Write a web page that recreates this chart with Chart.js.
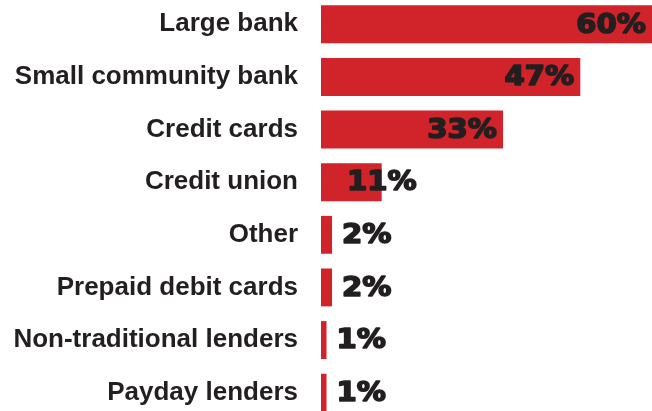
<!DOCTYPE html>
<html>
<head>
<meta charset="utf-8">
<script src="https://cdn.jsdelivr.net/npm/chart.js@4"></script>
<style>
  html, body { margin: 0; padding: 0; background: #fff; overflow: hidden; }
  #wrap { position: relative; width: 652px; height: 411px; overflow: hidden; }
  #caja { position: absolute; left: 0; top: -2px; width: 652px; height: 421px; }
</style>
</head>
<body>
<div id="wrap"><div id="caja"><canvas id="graf_bancos"></canvas></div></div>
<script>
// Categorias y valores (porcentaje)
var categorias = ['Large bank', 'Small community bank', 'Credit cards', 'Credit union',
  'Other', 'Prepaid debit cards', 'Non-traditional lenders', 'Payday lenders'];
var valores = [60, 47, 33, 11, 2, 2, 1, 1];

var rojo = '#d1232a';
var tinta = '#231f20';

// Etiquetas de porcentaje: dentro de la barra si es ancha, fuera si es corta
var etiquetasValor = {
  id: 'etiquetasValor',
  afterDatasetsDraw: function (chart) {
    var ctx = chart.ctx;
    var meta = chart.getDatasetMeta(0);
    var ancho = 1.12; // letra ensanchada
    ctx.save();
    ctx.fillStyle = tinta;
    ctx.strokeStyle = tinta;
    ctx.lineWidth = 1.6;
    ctx.lineJoin = 'round';
    ctx.font = 'bold 26px "DejaVu Sans"';
    ctx.textBaseline = 'middle';
    meta.data.forEach(function (bar, i) {
      var v = valores[i];
      var txt = v + '%';
      var w = ctx.measureText(txt).width * ancho;
      var x, alin;
      if (v >= 10) {
        // a la derecha dentro de la barra, sin pasar del inicio
        x = Math.max(bar.x - 6, bar.base + 26 + w);
        alin = 'right';
      } else {
        x = bar.x + 10;
        alin = 'left';
      }
      ctx.save();
      ctx.scale(ancho, 1);
      ctx.textAlign = alin;
      ctx.fillText(txt, x / ancho, bar.y + 1.5);
      ctx.strokeText(txt, x / ancho, bar.y + 1.5);
      ctx.restore();
    });
    ctx.restore();
  }
};

var ctx = document.getElementById('graf_bancos').getContext('2d');

var grafico = new Chart(ctx, {
  type: 'bar',
  data: {
    labels: categorias,
    datasets: [{
      data: valores,
      backgroundColor: rojo,
      borderWidth: 0,
      barPercentage: 0.72,
      categoryPercentage: 1.0
    }]
  },
  options: {
    indexAxis: 'y',
    responsive: true,
    maintainAspectRatio: false,
    animation: false,
    layout: { padding: 0 },
    plugins: {
      legend: { display: false },
      tooltip: { enabled: false }
    },
    scales: {
      x: {
        display: false,
        min: 0,
        max: 60
      },
      y: {
        afterFit: function (scale) {
          scale.width = 321;
          scale.paddingTop = 0;
          scale.paddingBottom = 0;
        },
        grid: { display: false, drawTicks: false },
        border: { display: false },
        ticks: {
          padding: 23,
          color: tinta,
          font: { family: 'Liberation Sans', size: 26, weight: 'bold' }
        }
      }
    }
  },
  plugins: [etiquetasValor]
});
</script>
</body>
</html>
